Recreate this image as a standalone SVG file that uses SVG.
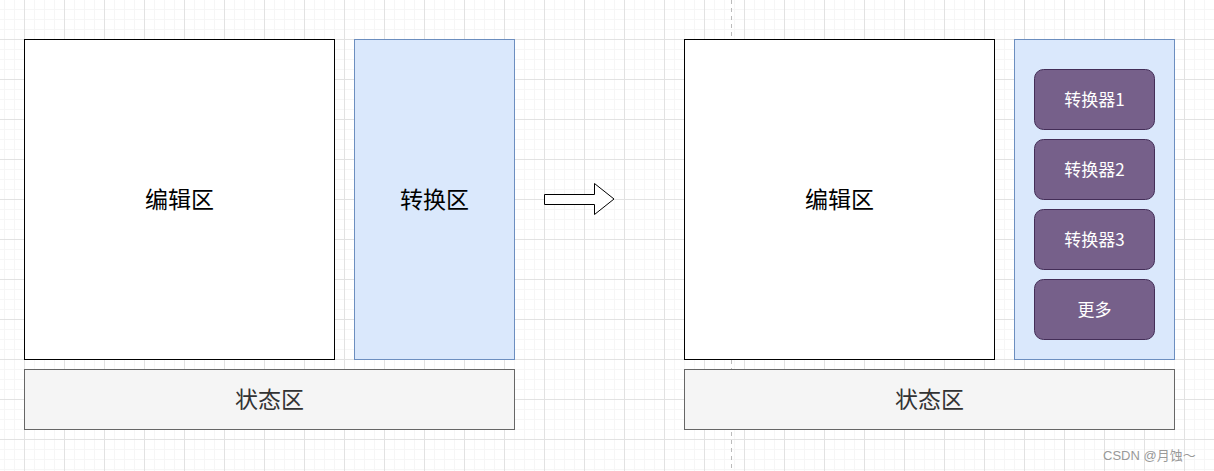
<svg xmlns="http://www.w3.org/2000/svg" width="1214" height="471" viewBox="0 0 1214 471">
<defs>
<pattern id="grid" x="24" y="39" width="40" height="40" patternUnits="userSpaceOnUse">
<path d="M10.5 0V40M20.5 0V40M30.5 0V40M0 10.5H40M0 20.5H40M0 30.5H40" stroke="#f6f6f6" stroke-width="1" fill="none"/>
<path d="M0.5 0V40M0 0.5H40" stroke="#e2e2e2" stroke-width="1" fill="none"/>
</pattern>
<style>
.t{font-family:"Noto Sans CJK SC","Microsoft YaHei",sans-serif;text-anchor:middle;dominant-baseline:central;font-weight:400}
.big{font-size:23px}
.edit{fill:#fff;stroke:#000;stroke-width:1}
.conv{fill:#dae8fc;stroke:#6c8ebf;stroke-width:1}
.stat{fill:#f5f5f5;stroke:#666;stroke-width:1}
.btn{fill:#76608a;stroke:#432d57;stroke-width:1}
.bt{font-size:17px;fill:#fff}
</style>
</defs>
<rect width="1214" height="471" fill="#fff"/>
<rect width="1214" height="471" fill="url(#grid)"/>
<line x1="731.5" y1="0" x2="731.5" y2="471" stroke="#bbb" stroke-dasharray="4,4"/>
<g id="left-edit"><rect class="edit" x="24.5" y="39.5" width="310" height="320"/><text class="t big" x="179.5" y="198" fill="#000">编辑区</text></g>
<g id="left-conv"><rect class="conv" x="354.5" y="39.5" width="160" height="320"/><text class="t big" x="434.5" y="198" fill="#000">转换区</text></g>
<g id="left-stat"><rect class="stat" x="24.5" y="369.5" width="490" height="60"/><text class="t big" x="269.5" y="398" fill="#333">状态区</text></g>
<g id="connectors"><path d="M544.5 194.5H594.5V183.5L614 199L594.5 214.5V204.5H544.5Z" fill="#fff" stroke="#000" stroke-width="1"/></g>
<g id="right-edit"><rect class="edit" x="684.5" y="39.5" width="310" height="320"/><text class="t big" x="839.5" y="198" fill="#000">编辑区</text></g>
<g id="right-conv"><rect class="conv" x="1014.5" y="39.5" width="160" height="320"/></g>
<g id="btn1"><rect class="btn" x="1034.5" y="69.5" width="120" height="60" rx="9"/><text class="t bt" x="1094.5" y="98.5">转换器1</text></g>
<g id="btn2"><rect class="btn" x="1034.5" y="139.5" width="120" height="60" rx="9"/><text class="t bt" x="1094.5" y="168.5">转换器2</text></g>
<g id="btn3"><rect class="btn" x="1034.5" y="209.5" width="120" height="60" rx="9"/><text class="t bt" x="1094.5" y="238.5">转换器3</text></g>
<g id="btn4"><rect class="btn" x="1034.5" y="279.5" width="120" height="60" rx="9"/><text class="t bt" x="1094.5" y="308.5">更多</text></g>
<g id="right-stat"><rect class="stat" x="684.5" y="369.5" width="490" height="60"/><text class="t big" x="929.5" y="398" fill="#333">状态区</text></g>
<text x="1103" y="460" font-family="'Liberation Sans','Noto Sans CJK SC',sans-serif" font-size="13" fill="#999">CSDN @月蚀～</text>
</svg>
